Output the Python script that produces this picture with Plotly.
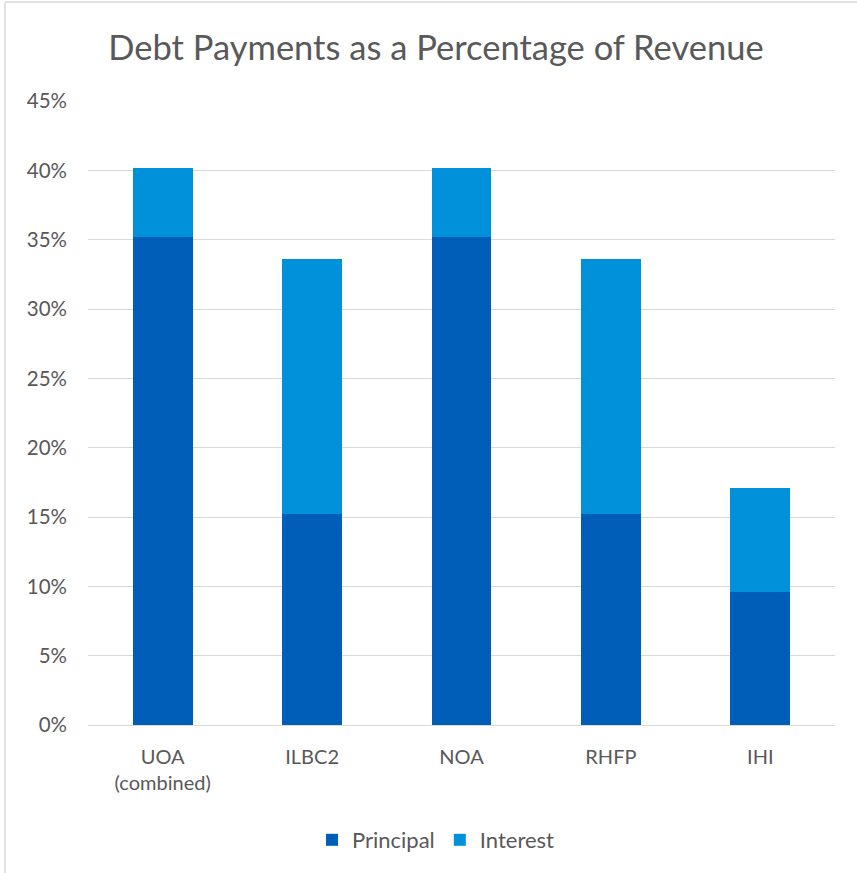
import plotly.graph_objects as go

# Debt service split into principal and interest, in percent of revenue
categories = ["UOA<br>(combined)", "ILBC2", "NOA", "RHFP", "IHI"]
principal = [35.2, 15.2, 35.2, 15.2, 9.6]
interest = [5.0, 18.4, 5.0, 18.4, 7.5]

title_text = "Debt Payments as a Percentage of Revenue"
text_color = "#595959"
grid_color = "#d9d9d9"
font_family = "Lato, 'Open Sans', sans-serif"

W, H = 857, 873
L, R, T, B = 88, 22, 101, 148
plot_w = W - L - R
plot_h = H - T - B

fig = go.Figure()
fig.add_trace(go.Bar(name="Principal", x=categories, y=principal,
                     marker=dict(color="#005EB8", line=dict(width=0))))
fig.add_trace(go.Bar(name="Interest", x=categories, y=interest,
                     marker=dict(color="#0091DA", line=dict(width=0))))


def px_x(p):
    return (p - L) / plot_w


def px_y(p):
    return (H - B - p) / plot_h


fig.update_layout(
    width=W, height=H,
    barmode="stack", bargap=0.6,
    paper_bgcolor="white", plot_bgcolor="white",
    margin=dict(l=L, r=R, t=T, b=B),
    font=dict(family=font_family, color=text_color, size=20),
    title=dict(text=title_text, x=436 / W, xref="container", xanchor="center",
               y=1 - 48 / H, yref="container", yanchor="middle",
               font=dict(size=34.5, color=text_color, family=font_family)),
    xaxis=dict(showgrid=False, showline=False, ticks="",
               ticklabelstandoff=18,
               tickfont=dict(size=20, color=text_color)),
    yaxis=dict(range=[0, 45], dtick=5, ticksuffix="%",
               showgrid=True, gridcolor=grid_color, gridwidth=1,
               zeroline=True, zerolinecolor=grid_color, zerolinewidth=1,
               showline=False, ticks="", ticklabelstandoff=20,
               tickfont=dict(size=20.5, color=text_color)),
    legend=dict(orientation="h", x=px_x(436), xanchor="center",
                y=px_y(840), yanchor="middle",
                font=dict(size=22, color=text_color),
                itemwidth=30, traceorder="normal"),
    shapes=[
        dict(type="line", xref="paper", yref="paper",
             x0=px_x(5), x1=px_x(857), y0=px_y(2), y1=px_y(2),
             line=dict(color=grid_color, width=1.5)),
        dict(type="line", xref="paper", yref="paper",
             x0=px_x(5), x1=px_x(5), y0=px_y(2), y1=px_y(873),
             line=dict(color=grid_color, width=1.5)),
    ],
)

fig.write_html("out.html")
